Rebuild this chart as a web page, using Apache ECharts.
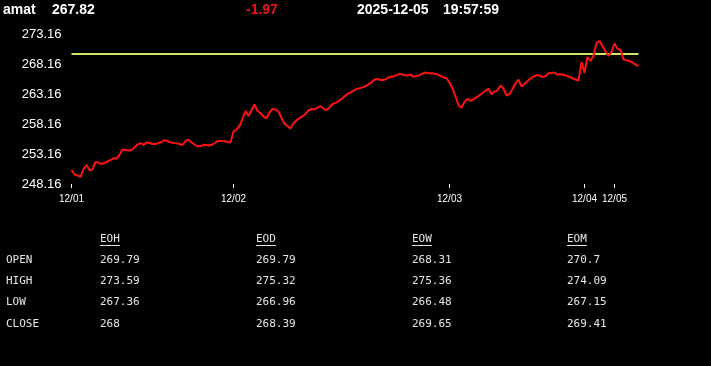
<!DOCTYPE html>
<html>
<head>
<meta charset="utf-8">
<script src="https://cdn.jsdelivr.net/npm/echarts@6/dist/echarts.min.js"></script>
<style>
html,body{margin:0;padding:0;background:#000;}
#chart{width:711px;height:366px;}
</style>
</head>
<body>
<div id="chart"></div>
<script>
// ---- header ----
const symbol = 'amat';
const lastPrice = '267.82';
const change = '-1.97';
const quoteDate = '2025-12-05';
const quoteTime = '19:57:59';
const prevClose = 269.79;

// ---- x axis (bar index where each day starts) ----
const dayLabels = ['12/01', '12/02', '12/03', '12/04', '12/05'];
const dayStartIndex = [0, 54, 126, 171, 181];

// ---- y axis tick labels ----
const yTicks = [248.16, 253.16, 258.16, 263.16, 268.16, 273.16];

// ---- price series ----
const prices = [
  250.49, 249.74, 249.58, 249.33, 250.66, 251.33, 250.49, 250.58, 251.83, 251.74,
  251.49, 251.66, 251.91, 252.16, 252.44, 252.41, 252.99, 253.91, 253.83, 253.74,
  253.83, 254.24, 254.74, 254.99, 254.66, 255.08, 254.99, 254.83, 254.83, 254.99,
  255.16, 255.46, 255.33, 255.11, 254.99, 254.94, 254.83, 254.66, 255.33, 255.53,
  255.08, 254.74, 254.41, 254.49, 254.66, 254.66, 254.58, 254.74, 255.08, 255.33,
  255.33, 255.33, 255.16, 255.08, 256.91, 257.24, 257.83, 258.99, 260.33, 259.49,
  260.49, 261.41, 260.33, 259.99, 259.41, 259.11, 260.08, 260.66, 260.58, 260.24,
  259.16, 258.19, 257.83, 257.41, 258.29, 258.79, 259.13, 259.46, 259.83, 260.41,
  260.66, 260.58, 260.88, 261.16, 260.74, 260.49, 260.91, 261.49, 261.69, 261.99,
  262.31, 262.76, 263.18, 263.44, 263.71, 263.98, 264.11, 264.26, 264.46, 264.76,
  265.09, 265.58, 265.66, 265.49, 265.49, 265.69, 266.04, 266.04, 266.23, 266.44,
  266.44, 266.33, 266.23, 266.43, 266.04, 266.16, 266.29, 266.56, 266.74, 266.61,
  266.61, 266.54, 266.43, 266.16, 265.94, 265.79, 265.08, 264.08, 262.74, 261.28,
  260.88, 261.83, 262.34, 262.03, 262.29, 262.61, 262.94, 263.33, 263.73, 264.08,
  263.13, 263.56, 263.73, 264.58, 264.03, 262.91, 263.16, 263.99, 264.91, 265.54,
  264.41, 264.84, 265.33, 265.73, 266.04, 266.31, 266.23, 265.99, 266.11, 266.61,
  266.68, 266.73, 266.39, 266.44, 266.36, 266.21, 266.03, 265.78, 265.58, 265.38,
  268.49, 266.66, 269.33, 268.66, 269.58, 271.66, 271.99, 271.11, 270.24, 269.53,
  270.16, 271.58, 270.69, 270.49, 268.93, 268.79, 268.66, 268.41, 268.03, 267.82
];

// ---- summary table ----
const tableCols = ['EOH', 'EOD', 'EOW', 'EOM'];
const rowLabels = ['OPEN', 'HIGH', 'LOW', 'CLOSE'];
const openVals  = [269.79, 269.79, 268.31, 270.7];
const highVals  = [273.59, 275.32, 275.36, 274.09];
const lowVals   = [267.36, 266.96, 266.48, 267.15];
const closeVals = [268, 268.39, 269.65, 269.41];
const tableRows = [openVals, highVals, lowVals, closeVals];

const headFont = 'bold 14px "Liberation Sans", Arial, sans-serif';
const monoFont = '11px "DejaVu Sans Mono", "Liberation Mono", monospace';

const mctx = document.createElement('canvas').getContext('2d');
function textWidth(t, font) { mctx.font = font; return mctx.measureText(t).width; }

const graphics = [];
function addText(x, y, text, fill, font) {
  graphics.push({ type: 'text', x: x, y: y, silent: true,
    style: { text: text, fill: fill, font: font, textAlign: 'left', textVerticalAlign: 'middle' } });
}
// header
addText(3, 10, symbol, '#ffffff', headFont);
addText(52, 10, lastPrice, '#ffffff', headFont);
addText(246, 10, change, '#e8161b', headFont);
addText(357, 10, quoteDate, '#ffffff', headFont);
addText(443, 10, quoteTime, '#ffffff', headFont);

// table
const colX = [100, 256, 412, 567];
const rowY = [260, 281, 302.5, 324];
const headY = 239;
tableCols.forEach(function (c, j) {
  addText(colX[j], headY, c, '#e6e6e6', monoFont);
  graphics.push({ type: 'line', silent: true,
    shape: { x1: colX[j], y1: headY + 6.5, x2: colX[j] + textWidth(c, monoFont), y2: headY + 6.5 },
    style: { stroke: '#e6e6e6', lineWidth: 1 } });
});
rowLabels.forEach(function (r, i) {
  addText(6, rowY[i], r, '#e6e6e6', monoFont);
  tableRows[i].forEach(function (v, j) {
    addText(colX[j], rowY[i], String(v), '#e6e6e6', monoFont);
  });
});

const chart = echarts.init(document.getElementById('chart'), null, { renderer: 'canvas' });
chart.setOption({
  backgroundColor: '#000000',
  animation: false,
  grid: { left: 71.5, top: 34, width: 567, height: 150, containLabel: false, outerBoundsMode: 'none' },
  xAxis: {
    type: 'value',
    min: 0,
    max: prices.length - 1,
    axisLine: { show: false },
    splitLine: { show: false },
    axisTick: { show: true, customValues: dayStartIndex, length: 4, lineStyle: { color: '#ffffff', width: 1 } },
    axisLabel: {
      customValues: dayStartIndex,
      color: '#ffffff',
      fontSize: 10,
      fontFamily: '"Liberation Sans", Arial, sans-serif',
      margin: 10,
      formatter: function (v) { return dayLabels[dayStartIndex.indexOf(v)]; }
    }
  },
  yAxis: {
    type: 'value',
    min: yTicks[0],
    max: yTicks[yTicks.length - 1],
    axisLine: { show: false },
    axisTick: { show: false },
    splitLine: { show: false },
    axisLabel: {
      customValues: yTicks,
      color: '#ffffff',
      fontSize: 13,
      fontFamily: '"Liberation Sans", Arial, sans-serif',
      margin: 10,
      formatter: function (v) { return v.toFixed(2); }
    }
  },
  series: [{
    type: 'line',
    data: prices.map(function (v, i) { return [i, v]; }),
    showSymbol: false,
    symbol: 'none',
    smooth: false,
    lineStyle: { color: '#ff1111', width: 2 },
    z: 3,
    markLine: {
      silent: true,
      symbol: 'none',
      label: { show: false },
      lineStyle: { color: '#d4e36a', width: 2, type: 'solid' },
      data: [{ yAxis: prevClose }],
      z: 2
    }
  }],
  graphic: graphics
});
</script>
</body>
</html>
